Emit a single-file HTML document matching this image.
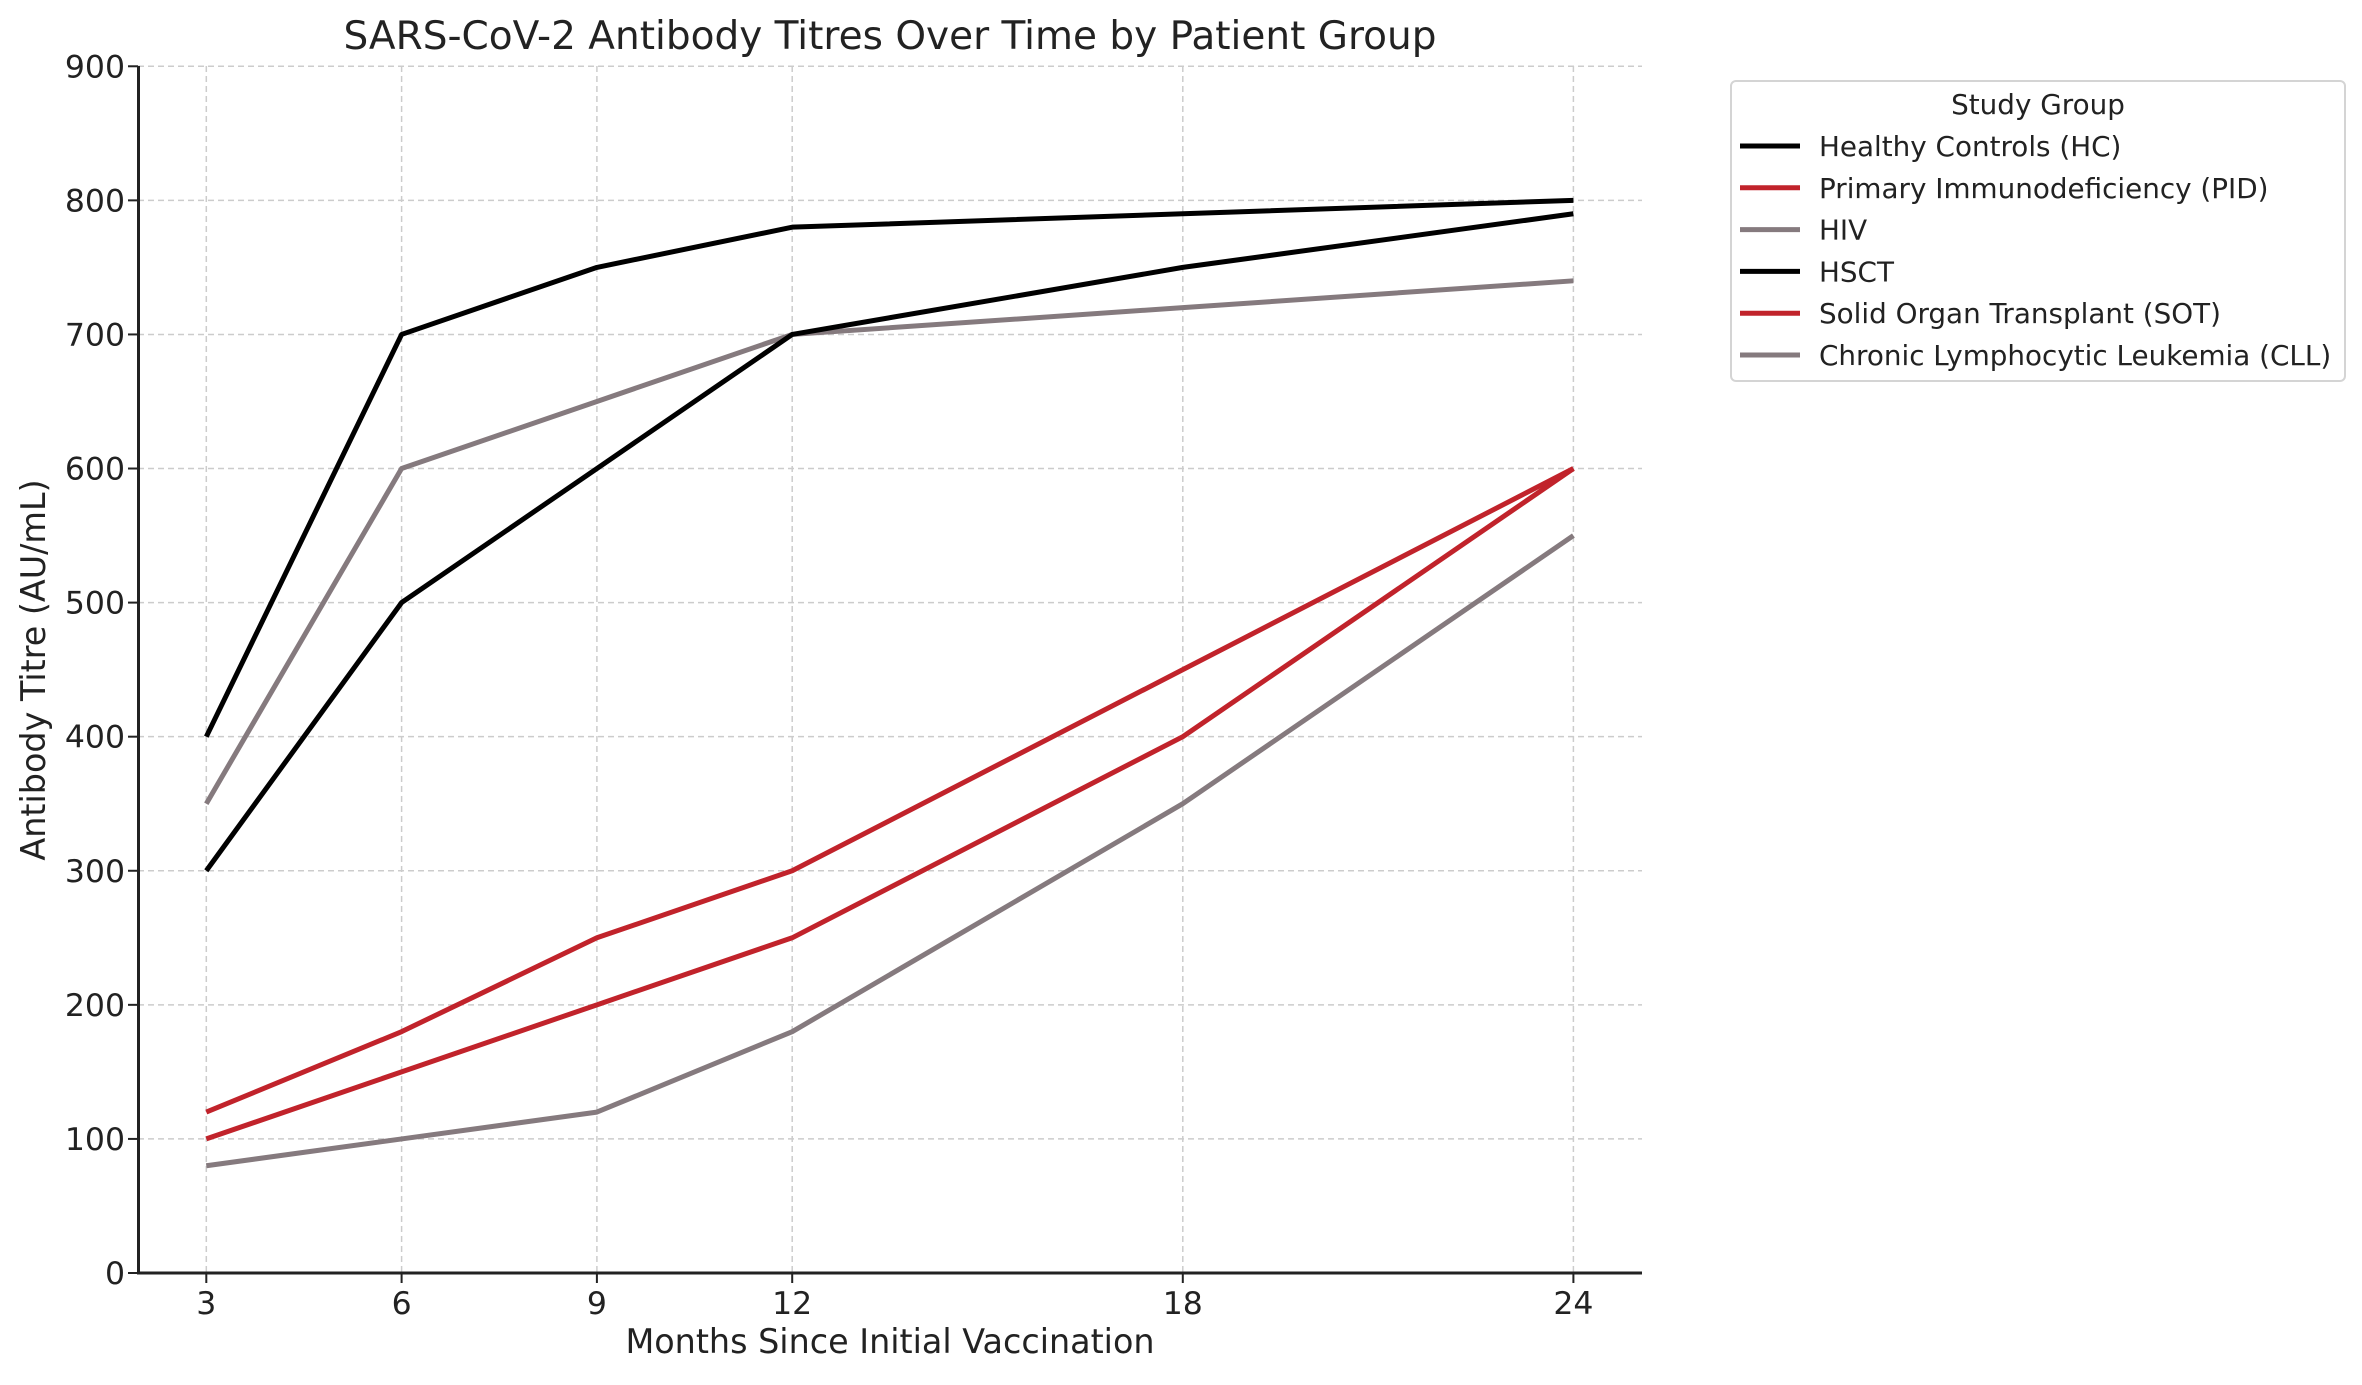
<!DOCTYPE html>
<html><head><meta charset="utf-8"><style>
html,body{margin:0;padding:0;background:#fff;}
svg text{font-family:"DejaVu Sans","Liberation Sans",sans-serif;fill:#222;}
</style></head><body>
<svg id="s" width="2362" height="1380" xmlns="http://www.w3.org/2000/svg">
<rect width="2362" height="1380" fill="#fff"/>
<g id="grid"></g>
<g id="lines"></g>
<line x1="138.5" y1="66" x2="138.5" y2="1274.5" stroke="#222" stroke-width="3"/>
<line x1="137" y1="1273" x2="1642" y2="1273" stroke="#222" stroke-width="3"/>
<g id="ticks"></g>
<text x="890" y="49" font-size="39" text-anchor="middle" fill="#333">SARS-CoV-2 Antibody Titres Over Time by Patient Group</text>
<text x="890" y="1353" font-size="33.4" text-anchor="middle">Months Since Initial Vaccination</text>
<text transform="translate(45,670) rotate(-90)" font-size="33.4" text-anchor="middle">Antibody Titre (AU/mL)</text>
<rect x="1731" y="81" width="614" height="300" rx="5" fill="#fff" stroke="#d4d4d4" stroke-width="2"/>
<text x="2038" y="114" font-size="27.8" text-anchor="middle" fill="#333">Study Group</text>
<g id="leg"></g>
</svg>
<script>
var X=function(m){return 206.3+(m-3)*65.1;};
var Y=function(v){return 1273-v*1.3408;};
var ns="http://www.w3.org/2000/svg";
function el(p,t,a,txt){var e=document.createElementNS(ns,t);for(var k in a)e.setAttribute(k,a[k]);if(txt!==undefined)e.textContent=txt;document.getElementById(p).appendChild(e);}
var ms=[3,6,9,12,18,24];
ms.forEach(function(m){el("grid","line",{x1:X(m),x2:X(m),y1:66,y2:1273,stroke:"#ccc","stroke-width":1.5,"stroke-dasharray":"6,4"});
el("ticks","line",{x1:X(m),x2:X(m),y1:1273,y2:1283,stroke:"#222","stroke-width":2});
el("ticks","text",{x:X(m),y:1314,"font-size":31.5,"text-anchor":"middle"},m);});
for(var v=0;v<=900;v+=100){if(v>0)el("grid","line",{x1:138,x2:1642,y1:Y(v),y2:Y(v),stroke:"#ccc","stroke-width":1.5,"stroke-dasharray":"6,4"});
el("ticks","line",{x1:128,x2:138,y1:Y(v),y2:Y(v),stroke:"#222","stroke-width":2});
el("ticks","text",{x:125,y:Y(v)+11,"font-size":31.5,"text-anchor":"end"},v);}
var K="#000",R="#c1232b",G="#857a7e";
var S=[["Healthy Controls (HC)",K,[400,700,750,780,790,800]],
["Primary Immunodeficiency (PID)",R,[120,180,250,300,450,600]],
["HIV",G,[350,600,650,700,720,740]],
["HSCT",K,[300,500,600,700,750,790]],
["Solid Organ Transplant (SOT)",R,[100,150,200,250,400,600]],
["Chronic Lymphocytic Leukemia (CLL)",G,[80,100,120,180,350,550]]];
S.forEach(function(s,i){var pts=s[2].map(function(v,j){return X(ms[j])+","+Y(v);}).join(" ");
el("lines","polyline",{points:pts,fill:"none",stroke:s[1],"stroke-width":5,"stroke-linejoin":"round"});
var y=146+i*41.8;
el("leg","line",{x1:1740,x2:1800,y1:y,y2:y,stroke:s[1],"stroke-width":5});
el("leg","text",{x:1819,y:y+10,"font-size":27.8,fill:"#333"},s[0]);});
</script>
</body></html>
